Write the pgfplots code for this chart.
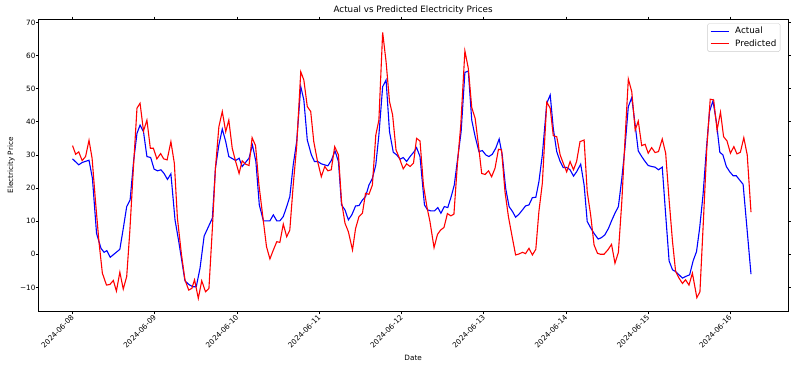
\documentclass[border=0pt]{standalone}
\usepackage{fontspec}
\setmainfont{DejaVu Sans}
\usepackage{pgfplots}
\pgfplotsset{compat=1.18}

\newcommand{\tickfont}{\fontsize{7.3}{8.5}\selectfont}
\newcommand{\bigfont}{\fontsize{8.8}{10}\selectfont}

\begin{document}
\begin{tikzpicture}
\useasboundingbox (-38.3bp,-58.3bp) rectangle (754.7bp,311.7bp);
\begin{axis}[
    at={(0,0)}, anchor=south west,
    scale only axis, width=749.7bp, height=292.4bp,
    xmin=-10, xmax=208.8, ymin=-17.33, ymax=70.93,
    xtick={0,24,48,72,96,120,144,168,192},
    xticklabels={2024-06-08,2024-06-09,2024-06-10,2024-06-11,2024-06-12,2024-06-13,2024-06-14,2024-06-15,2024-06-16},
    ytick={-10,0,10,20,30,40,50,60,70},
    yticklabels={−10,0,10,20,30,40,50,60,70},
    tick align=outside, major tick length=2.6bp,
    tick style={line width=0.6bp, black},
    axis line style={line width=0.6bp},
    /pgf/number format/assume math mode=true,
    xticklabel style={font=\tickfont, inner sep=0pt, xshift=-2bp, rotate=45, anchor=north east},
    yticklabel style={font=\tickfont, inner sep=0pt, anchor=east},
    title={Actual vs Predicted Electricity Prices},
    title style={font=\bigfont, at={(0.5,1)}, anchor=base, yshift=0.5bp, inner sep=0pt},
    xlabel={Date},
    xlabel style={font=\tickfont, at={(axis description cs:0.5,-0.1669)}, anchor=base, inner sep=0pt},
    ylabel={Electricity Price},
    ylabel style={font=\tickfont, at={(axis description cs:-0.0335,0.5)}, anchor=base, inner sep=0pt},
    legend style={at={(rel axis cs:0.9897,0.9863)}, anchor=north east,
        draw=black!20, rounded corners=1.5bp, fill=white, font=\bigfont,
        inner xsep=2.5bp, inner ysep=2.5bp, row sep=2bp, column sep=4.5bp,
        nodes={inner sep=1.2bp}},
    legend cell align=left,
    legend image code/.code={\draw[#1] (0bp,0bp) -- (18.3bp,0bp);},
]

% Actual
\addplot[blue, line width=1.1bp] coordinates {
(0.0,28.8) (1.8,27.0) (2.8,27.7) (4.8,28.4) (5.8,22.9) (7.0,6.3) (8.3,1.8) (9.2,0.6) (10.0,1.1) (11.0,-0.9)
(13.8,1.5) (14.8,7.8) (15.8,14.4) (16.8,16.4) (17.8,28.0) (18.8,36.5) (19.7,39.0) (20.7,37.0) (21.7,29.5) (22.8,29.2)
(23.8,25.7) (24.8,25.2) (25.8,25.5) (26.7,24.4) (27.7,22.6) (28.7,24.3) (29.9,10.4) (31.0,3.8) (32.8,-8.0) (33.9,-9.1)
(35.1,-9.8) (36.1,-9.8) (37.2,-4.2) (38.4,5.5) (40.8,10.9) (41.7,26.0) (42.7,33.0) (43.7,37.8) (44.7,34.0) (45.6,29.5)
(47.6,28.3) (48.6,29.0) (49.5,26.5) (51.5,29.0) (52.5,33.0) (53.5,28.0) (54.5,14.9) (55.7,10.1) (57.6,10.1) (58.6,11.9)
(59.6,10.1) (60.5,10.1) (61.5,11.4) (62.5,14.4) (63.4,17.4) (64.4,27.0) (65.4,34.0) (66.6,50.6) (67.5,46.6) (68.5,34.5)
(69.7,30.0) (70.6,28.0) (71.6,28.0) (72.6,27.3) (74.5,26.7) (75.5,28.3) (76.6,31.2) (77.6,28.0) (78.5,14.9) (79.5,13.4)
(80.5,10.4) (81.5,11.9) (82.6,14.6) (83.6,14.7) (84.6,16.4) (85.5,17.4) (86.5,20.9) (87.5,22.9) (88.5,27.0) (89.4,36.0)
(90.5,50.6) (91.5,52.6) (92.5,37.0) (93.6,30.8) (94.6,30.0) (95.6,28.7) (96.5,29.2) (97.5,28.0) (98.5,29.5) (99.7,31.0)
(100.4,32.2) (101.4,29.5) (102.7,14.9) (103.6,13.4) (104.6,13.1) (105.6,13.1) (106.6,14.1) (107.5,12.4) (108.5,14.4) (109.5,14.1)
(110.5,17.4) (111.4,20.9) (112.4,29.0) (113.4,37.0) (114.5,54.9) (115.5,55.3) (116.5,40.5) (117.5,35.5) (118.6,31.0) (119.6,31.3)
(120.6,30.0) (121.5,29.5) (122.5,30.2) (123.5,32.0) (124.5,34.8) (125.4,30.0) (126.4,19.9) (127.4,14.4) (128.4,12.9) (129.3,11.2)
(130.3,12.1) (131.3,13.4) (132.2,14.6) (133.2,14.9) (134.2,17.1) (135.2,17.2) (136.1,21.9) (137.1,30.0) (138.4,45.6) (139.4,48.1)
(140.3,38.0) (141.3,31.0) (142.3,28.0) (143.2,26.2) (144.2,26.2) (145.2,25.5) (146.2,23.6) (147.1,24.9) (148.3,27.2) (149.3,20.9)
(150.2,9.9) (151.2,8.0) (152.2,6.3) (153.4,4.6) (154.3,5.0) (155.3,5.8) (156.4,7.8) (157.3,10.1) (158.3,12.4) (159.3,14.4)
(160.3,22.9) (161.2,32.0) (162.2,44.6) (163.2,47.3) (164.2,39.0) (165.1,31.2) (166.1,29.5) (167.1,28.0) (168.0,26.8) (169.0,26.5)
(170.0,26.3) (171.0,25.5) (172.1,26.3) (173.1,11.9) (174.1,-2.0) (175.1,-4.7) (176.0,-5.2) (177.0,-6.2) (178.0,-7.2) (178.9,-6.7)
(180.1,-6.2) (181.1,-2.0) (182.1,0.8) (183.0,7.8) (184.0,17.9) (185.0,32.0) (185.9,43.1) (186.9,46.3) (187.9,40.0) (188.9,30.8)
(189.8,30.0) (190.8,26.5) (191.8,24.9) (192.8,23.7) (193.7,23.7) (194.7,22.4) (195.7,21.1) (198.0,-6.0)
};
\addlegendentry{Actual}

% Predicted
\addplot[red, line width=1.1bp] coordinates {
(0.0,32.8) (0.9,30.2) (1.8,30.9) (2.8,28.3) (3.8,29.5) (4.8,34.4) (5.7,29.0) (6.7,15.9) (7.7,3.8) (8.7,-5.7)
(9.9,-9.3) (10.9,-9.1) (11.9,-7.9) (12.8,-11.1) (13.8,-5.4) (14.8,-10.5) (15.8,-6.7) (16.7,6.8) (17.7,25.0) (18.8,44.1)
(19.7,45.6) (20.7,37.2) (21.7,40.5) (22.7,32.0) (23.6,32.0) (24.6,28.8) (25.7,30.4) (26.6,28.8) (27.6,28.5) (28.7,34.0)
(29.7,27.5) (30.6,10.9) (31.8,-0.2) (32.8,-7.7) (33.9,-10.8) (34.8,-10.3) (35.6,-7.7) (36.7,-13.3) (37.7,-8.0) (38.8,-11.3)
(39.8,-10.3) (40.8,7.8) (41.7,26.0) (42.7,38.5) (43.7,43.1) (44.7,37.0) (45.6,40.5) (46.6,32.0) (47.6,28.0) (48.6,24.4)
(49.5,28.2) (50.5,27.2) (51.5,26.8) (52.4,35.2) (53.4,32.8) (54.4,20.9) (55.7,9.9) (56.6,2.3) (57.6,-1.4) (58.6,1.3)
(59.6,3.8) (60.5,3.6) (61.5,9.1) (62.5,5.3) (63.4,7.3) (64.4,20.9) (65.4,32.5) (66.6,55.1) (67.5,52.6) (68.5,44.6)
(69.5,43.1) (70.4,34.0) (71.4,28.5) (72.6,23.4) (73.6,26.5) (74.5,25.2) (75.5,25.5) (76.5,32.5) (77.6,30.0) (78.5,15.9)
(79.5,9.4) (80.5,6.8) (81.7,1.3) (82.6,7.8) (83.6,11.4) (84.6,12.4) (85.5,18.4) (86.5,18.1) (87.5,20.9) (88.5,36.0)
(89.4,40.5) (90.5,67.0) (91.5,58.1) (92.5,46.1) (93.4,42.1) (94.4,31.5) (95.4,29.0) (96.5,25.8) (97.5,27.3) (98.5,26.5)
(99.5,27.5) (100.4,35.0) (101.4,34.2) (102.4,20.9) (103.4,14.4) (104.3,9.9) (105.5,2.0) (106.5,6.0) (107.4,7.3) (108.4,8.1)
(109.4,12.3) (110.4,11.6) (111.3,12.1) (112.3,27.0) (113.3,39.0) (114.5,61.4) (115.5,56.1) (116.5,44.3) (117.5,41.0) (118.4,33.5)
(119.4,24.4) (120.4,24.1) (121.4,25.2) (122.3,23.4) (123.3,26.0) (124.3,31.7) (125.2,31.5) (126.2,18.9) (127.2,11.4) (128.2,5.8)
(129.3,-0.2) (130.3,0.1) (131.3,0.6) (132.2,0.2) (133.2,1.8) (134.2,-0.2) (135.2,1.5) (136.1,12.9) (137.1,21.4) (138.4,45.9)
(139.4,44.1) (140.3,35.8) (141.3,35.5) (142.3,30.0) (143.2,27.5) (144.2,24.9) (145.2,28.0) (146.2,25.5) (147.1,28.0) (148.1,34.0)
(149.3,34.5) (150.2,18.9) (151.2,11.9) (152.2,2.8) (153.2,0.3) (154.1,0.0) (155.1,0.0) (156.2,1.3) (157.3,3.0) (158.3,-2.7)
(159.3,0.6) (160.3,15.9) (161.2,34.0) (162.2,52.9) (163.2,49.1) (164.2,37.5) (165.1,40.2) (166.1,32.8) (167.1,33.2) (168.0,30.5)
(169.0,32.2) (170.0,30.7) (171.0,31.0) (172.1,34.8) (173.1,30.5) (174.1,16.4) (175.1,3.8) (176.0,-5.2) (177.0,-7.2) (178.0,-8.8)
(178.9,-7.7) (179.9,-9.3) (180.9,-5.7) (182.2,-13.1) (183.1,-11.3) (184.1,9.9) (185.1,32.0) (186.1,46.8) (187.1,46.6) (188.1,37.5)
(189.1,42.9) (190.0,35.5) (191.0,34.2) (192.0,30.5) (193.0,32.5) (193.9,30.3) (194.9,30.8) (195.9,35.2) (196.9,30.0) (198.0,12.7)
};
\addlegendentry{Predicted}

\end{axis}
\end{tikzpicture}
\end{document}
